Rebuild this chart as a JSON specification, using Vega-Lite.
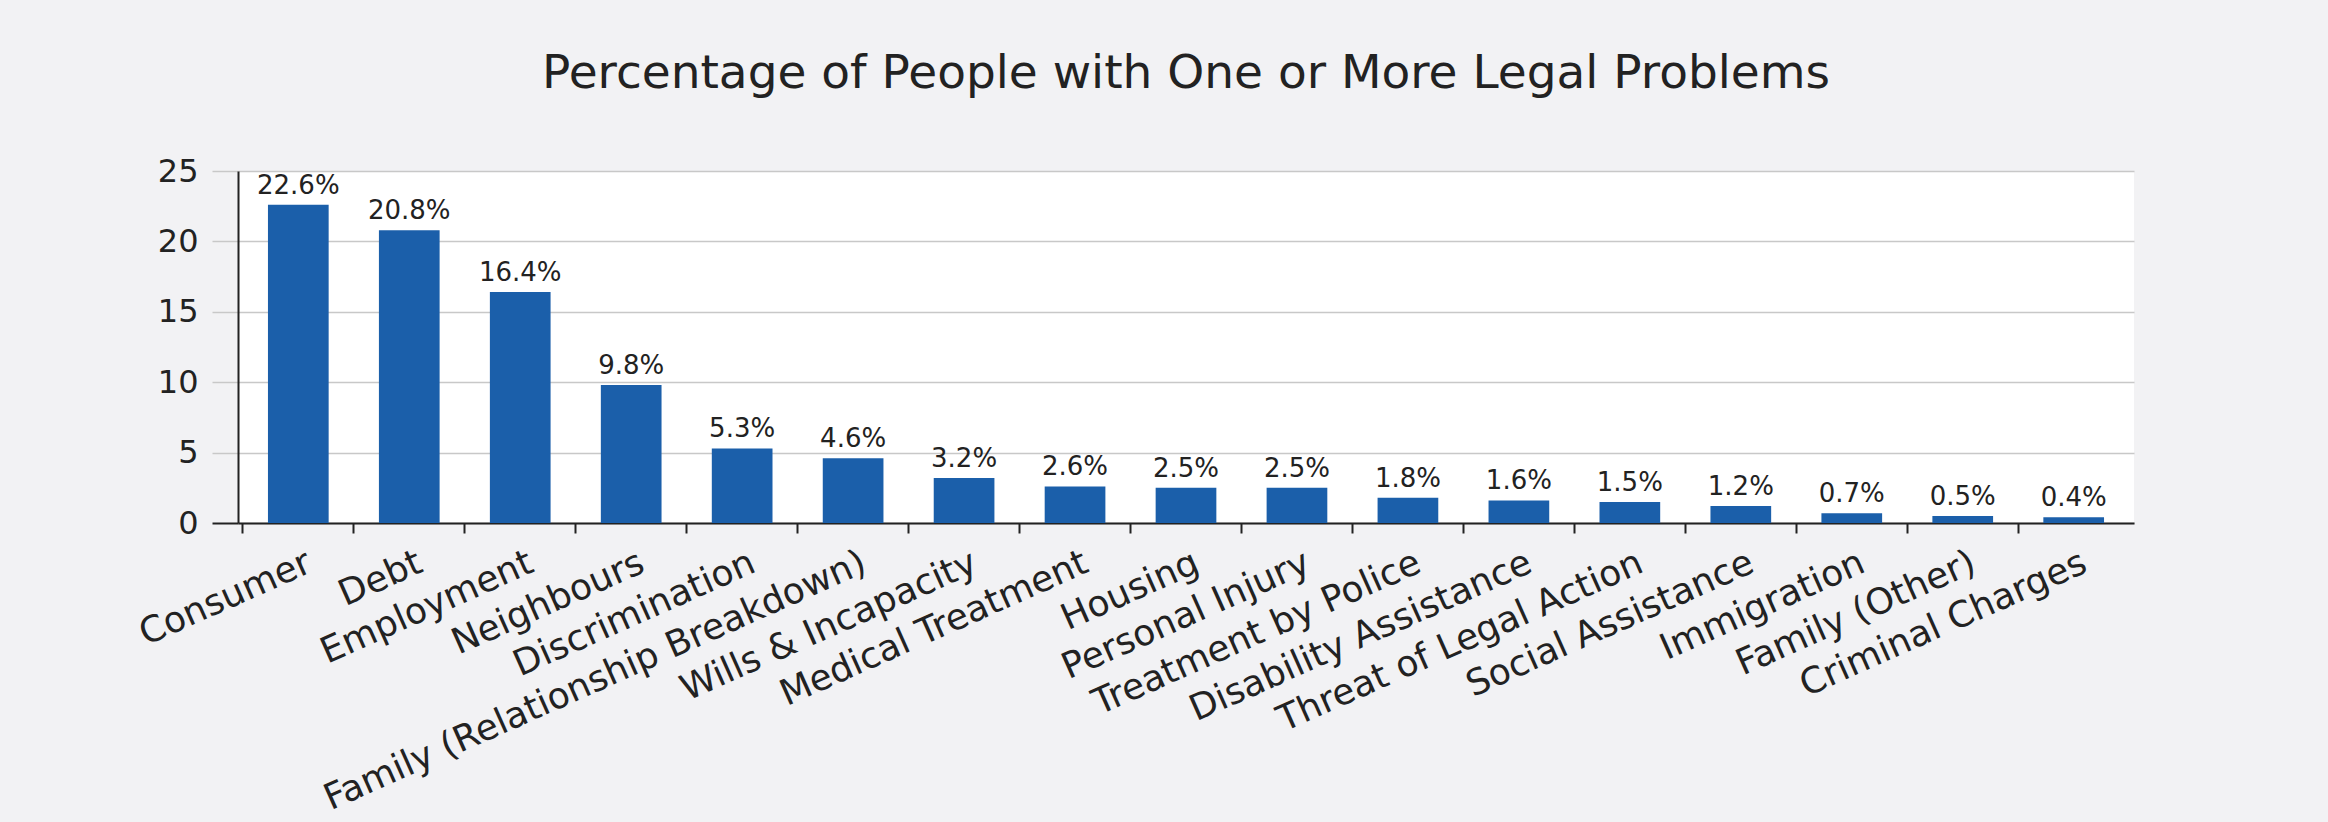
{
  "$schema": "https://vega.github.io/schema/vega-lite/v6.json",
  "width": 1896,
  "height": 352,
  "autosize": {"type": "none"},
  "padding": {"left": 238, "top": 171, "right": 194, "bottom": 299},
  "background": "#f2f2f4",
  "config": {
    "view": {"fill": "#ffffff", "stroke": null},
    "font": "DejaVu Sans"
  },
  "title": {
    "text": "Percentage of People with One or More Legal Problems",
    "fontSize": 47,
    "fontWeight": "normal",
    "color": "#222222",
    "offset": 57,
    "font": "DejaVu Sans"
  },
  "data": {
    "values": [
      {"problem": "Consumer", "value": 22.6},
      {"problem": "Debt", "value": 20.8},
      {"problem": "Employment", "value": 16.4},
      {"problem": "Neighbours", "value": 9.8},
      {"problem": "Discrimination", "value": 5.3},
      {"problem": "Family (Relationship Breakdown)", "value": 4.6},
      {"problem": "Wills & Incapacity", "value": 3.2},
      {"problem": "Medical Treatment", "value": 2.6},
      {"problem": "Housing", "value": 2.5},
      {"problem": "Personal Injury", "value": 2.5},
      {"problem": "Treatment by Police", "value": 1.8},
      {"problem": "Disability Assistance", "value": 1.6},
      {"problem": "Threat of Legal Action", "value": 1.5},
      {"problem": "Social Assistance", "value": 1.2},
      {"problem": "Immigration", "value": 0.7},
      {"problem": "Family (Other)", "value": 0.5},
      {"problem": "Criminal Charges", "value": 0.4}
    ]
  },
  "transform": [
    {"calculate": "format(datum.value, '.1f') + '%'", "as": "label"}
  ],
  "encoding": {
    "x": {
      "field": "problem",
      "type": "nominal",
      "sort": null,
      "scale": {"paddingInner": 0.453, "paddingOuter": 0.27},
      "axis": {
        "title": null,
        "labelAngle": -24,
        "labelAlign": "right",
        "labelBaseline": "top",
        "labelFontSize": 36,
        "labelColor": "#222222",
        "labelPadding": 12,
        "labelOffset": 4,
        "labelLimit": 1000,
        "labelOverlap": false,
        "bandPosition": -0.414,
        "domainColor": "#222222",
        "domainWidth": 2,
        "tickColor": "#222222",
        "tickWidth": 2,
        "tickSize": 10
      }
    },
    "y": {
      "field": "value",
      "type": "quantitative",
      "scale": {"domain": [0, 25]},
      "axis": {
        "title": null,
        "values": [0, 5, 10, 15, 20, 25],
        "labelFontSize": 32,
        "labelColor": "#222222",
        "labelPadding": 14,
        "gridColor": "#c8c8c8",
        "gridWidth": 1.5,
        "tickColor": {"condition": {"test": "datum.value === 0", "value": "#222222"}, "value": "#c8c8c8"},
        "tickWidth": {"condition": {"test": "datum.value === 0", "value": 2}, "value": 1.5},
        "tickSize": 26,
        "domainColor": "#222222",
        "domainWidth": 2
      }
    }
  },
  "layer": [
    {"mark": {"type": "bar", "color": "#1b5faa"}},
    {
      "mark": {"type": "text", "baseline": "bottom", "dy": -6, "fontSize": 26, "color": "#222222"},
      "encoding": {"text": {"field": "label"}}
    }
  ]
}
